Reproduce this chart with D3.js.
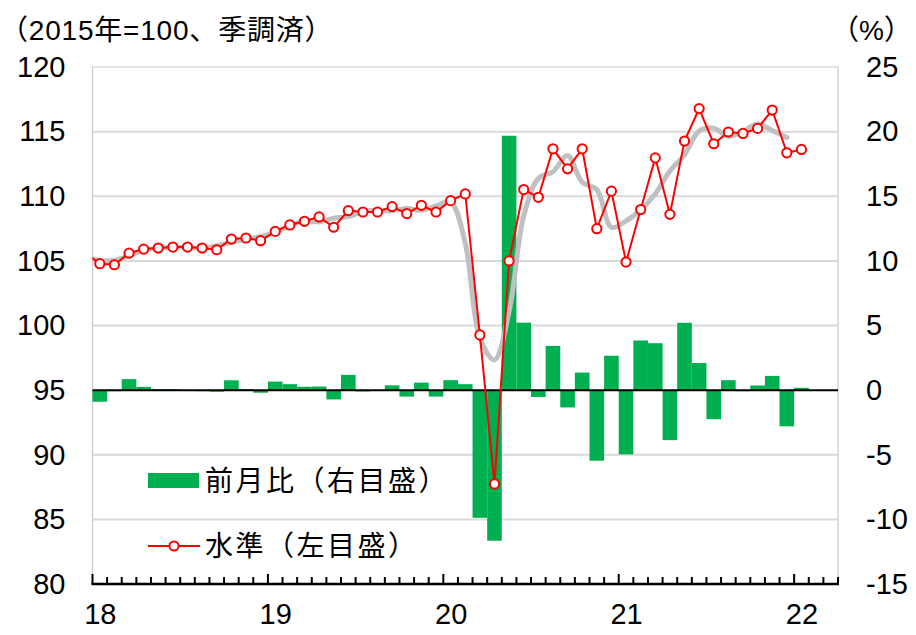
<!DOCTYPE html>
<html>
<head>
<meta charset="utf-8">
<script src="https://cdn.jsdelivr.net/npm/d3@7"></script>
<style>
  body { margin: 0; background: #fff; }
  text { font-family: "Liberation Sans", Arial, "Noto Sans CJK JP", sans-serif; fill: #000; }
  .jp { font-family: "Noto Sans CJK JP", sans-serif; }
</style>
</head>
<body>
<svg id="chart" width="916" height="635"></svg>
<script>
// months : index 0 = 2018-01, -1 = 2017-12 (coupé par le bord gauche)
var months = [
  "2017-12",
  "2018-01","2018-02","2018-03","2018-04","2018-05","2018-06","2018-07","2018-08","2018-09","2018-10","2018-11","2018-12",
  "2019-01","2019-02","2019-03","2019-04","2019-05","2019-06","2019-07","2019-08","2019-09","2019-10","2019-11","2019-12",
  "2020-01","2020-02","2020-03","2020-04","2020-05","2020-06","2020-07","2020-08","2020-09","2020-10","2020-11","2020-12",
  "2021-01","2021-02","2021-03","2021-04","2021-05","2021-06","2021-07","2021-08","2021-09","2021-10","2021-11","2021-12",
  "2022-01"
];

// 水準 (左目盛), 2017-12 .. 2022-01
var niveau = [
  105.6,
  104.78, 104.70, 105.60, 105.91, 105.99, 106.07, 106.07, 105.99, 105.86, 106.69, 106.77, 106.56,
  107.28, 107.78, 108.06, 108.40, 107.60, 108.89, 108.78, 108.78, 109.20, 108.66, 109.30, 108.78,
  109.66, 110.18, 99.27, 87.74, 105.00, 110.52, 109.92, 113.67, 112.12, 113.67, 107.49, 110.39,
  104.91, 108.97, 112.97, 108.60, 114.27, 116.78, 114.06, 114.97, 114.86, 115.25, 116.67, 113.36,
  113.62
];

// ligne grise lissée, 2017-12 .. 2021-12
var tendance = [
  105.3,
  105.03, 105.03, 105.40, 105.83, 105.99, 106.04, 106.04, 105.97, 106.18, 106.44, 106.67, 106.87,
  107.21, 107.71, 108.08, 108.02, 108.30, 108.42, 108.82, 108.92, 108.88, 109.05, 108.91, 109.25,
  109.54, 106.37, 99.06, 97.34, 101.09, 108.48, 111.37, 111.90, 113.15, 111.09, 110.52, 107.60,
  108.09, 108.95, 110.18, 111.95, 113.22, 115.04, 115.27, 114.63, 115.03, 115.59, 115.09, 114.55
];

// 前月比 (右目盛, %), 2018-01 .. 2022-01
var variation = [
  -0.90, -0.08, 0.85, 0.25, 0.07, 0.07, 0.00, -0.08, -0.12, 0.76, 0.08, -0.20,
  0.66, 0.46, 0.26, 0.28, -0.72, 1.18, -0.10, 0.00, 0.37, -0.50, 0.58, -0.50,
  0.77, 0.46, -9.88, -11.65, 19.68, 5.22, -0.53, 3.42, -1.34, 1.36, -5.46, 2.66,
  -4.97, 3.84, 3.63, -3.87, 5.21, 2.10, -2.25, 0.77, -0.08, 0.36, 1.10, -2.80,
  0.18
];

var anneesLabels = ["18", "19", "20", "21", "22"];
var gaucheTicks = [80, 85, 90, 95, 100, 105, 110, 115, 120];
var droiteTicks = [-15, -10, -5, 0, 5, 10, 15, 20, 25];
var nbMois = 51; // axe de 2018-01 a 2022-03

var svg = d3.select("#chart");
// attention : "top" est reserve par window
var gX0 = 92.5, gX1 = 838, gY0 = 67, gY1 = 584;

var x = d3.scaleLinear().domain([-0.5, nbMois - 0.5]).range([gX0, gX1]);
var pas = x(1) - x(0);
var yG = d3.scaleLinear().domain([80, 120]).range([gY1, gY0]);
var yD = d3.scaleLinear().domain([-15, 25]).range([gY1, gY0]);

svg.append("clipPath").attr("id", "zone")
  .append("rect").attr("x", gX0).attr("y", gY0 - 20).attr("width", gX1 - gX0).attr("height", gY1 - gY0 + 40);

// grille
svg.append("g").selectAll("line")
  .data(gaucheTicks.filter(function (v) { return v > 80 && v < 120 && v != 95; }))
  .enter().append("line")
  .attr("x1", gX0).attr("x2", gX1)
  .attr("y1", function (d) { return yG(d); }).attr("y2", function (d) { return yG(d); })
  .attr("stroke", "#d9d9d9").attr("stroke-width", 2);

// cadre
svg.append("path")
  .attr("d", "M" + gX0 + "," + gY1 + "V" + gY0 + "H" + gX1 + "V" + gY1)
  .attr("fill", "none").attr("stroke", "#c8c8c8").attr("stroke-width", 1.2);

// barres
svg.append("g").selectAll("rect")
  .data(variation)
  .enter().append("rect")
  .attr("x", function (d, i) { return x(i - 0.5); })
  .attr("width", pas)
  .attr("y", function (d) { return yD(Math.max(0, d)); })
  .attr("height", function (d) { return Math.abs(yD(d) - yD(0)); })
  .attr("fill", "#00b050");

// ligne zero
svg.append("line")
  .attr("x1", gX0).attr("x2", gX1)
  .attr("y1", yD(0)).attr("y2", yD(0))
  .attr("stroke", "#000").attr("stroke-width", 2);

var plot = svg.append("g").attr("clip-path", "url(#zone)");

var ligneGrise = d3.line()
  .x(function (d, i) { return x(i - 1); })
  .y(function (d) { return yG(d); })
  .curve(d3.curveCatmullRom.alpha(0.5));

plot.append("path")
  .datum(tendance)
  .attr("d", ligneGrise)
  .attr("fill", "none").attr("stroke", "#c0c0c0").attr("stroke-width", 5)
  .attr("stroke-linejoin", "round").attr("stroke-linecap", "round");

var ligneRouge = d3.line()
  .x(function (d, i) { return x(i - 1); })
  .y(function (d) { return yG(d); });

plot.append("path")
  .datum(niveau)
  .attr("d", ligneRouge)
  .attr("fill", "none").attr("stroke", "#ff0000").attr("stroke-width", 2);

plot.selectAll("circle")
  .data(niveau)
  .enter().append("circle")
  .attr("cx", function (d, i) { return x(i - 1); })
  .attr("cy", function (d) { return yG(d); })
  .attr("r", 4.6)
  .attr("fill", "#fff").attr("stroke", "#ff0000").attr("stroke-width", 2);

// axe du bas : petits traits tous les mois, grands a chaque annee
var bornes = d3.range(0, nbMois + 1).map(function (i) { return i - 0.5; });
var axeBas = svg.append("g").attr("transform", "translate(0," + gY1 + ")");
axeBas.selectAll("line.tick")
  .data(bornes)
  .enter().append("line")
  .attr("x1", function (d) { return x(d); }).attr("x2", function (d) { return x(d); })
  .attr("y1", 0)
  .attr("y2", function (d, i) { return (i % 12 == 0) ? -10 : -7; })
  .attr("stroke", "#000").attr("stroke-width", 2);
axeBas.append("line")
  .attr("x1", gX0 - 1).attr("x2", gX1 + 1)
  .attr("stroke", "#000").attr("stroke-width", 2.5);

var axeAnnees = d3.axisBottom(x)
  .tickValues([0, 12, 24, 36, 48])
  .tickSize(0)
  .tickFormat(function (d, i) { return anneesLabels[i]; });
svg.append("g")
  .attr("transform", "translate(0," + (gY1 + 15) + ")")
  .call(axeAnnees)
  .call(function (g) { g.select(".domain").remove(); })
  .selectAll("text").attr("font-size", 29).attr("dy", "0.75em").attr("fill", "#000");

// axes verticaux (tiret simple pour les negatifs, comme l'original)
var texteSimple = function (d) { return String(d); };

svg.append("g")
  .attr("transform", "translate(" + (gX0 - 27) + ",0)")
  .call(d3.axisLeft(yG).tickValues(gaucheTicks).tickFormat(texteSimple).tickSize(0).tickPadding(0))
  .call(function (g) { g.select(".domain").remove(); })
  .selectAll("text").attr("font-size", 29).attr("fill", "#000");

svg.append("g")
  .attr("transform", "translate(" + (gX1 + 28) + ",0)")
  .call(d3.axisRight(yD).tickValues(droiteTicks).tickFormat(texteSimple).tickSize(0).tickPadding(0))
  .call(function (g) { g.select(".domain").remove(); })
  .selectAll("text").attr("font-size", 29).attr("fill", "#000");

// titres d'unite
svg.append("text")
  .attr("x", 0).attr("y", 40)
  .attr("font-size", 28).attr("letter-spacing", 0.8)
  .text("（2015年=100、季調済）");
svg.append("text")
  .attr("x", 912).attr("y", 40)
  .attr("text-anchor", "end")
  .attr("font-size", 28)
  .text("（%）");

// legende
var leg = svg.append("g");
leg.append("rect")
  .attr("x", 148).attr("y", 473).attr("width", 51).attr("height", 15)
  .attr("fill", "#00b050");
leg.append("text").attr("class", "jp")
  .attr("x", 205).attr("y", 481).attr("dy", "0.36em")
  .attr("font-size", 28).attr("letter-spacing", 2.5)
  .text("前月比（右目盛）");

leg.append("line")
  .attr("x1", 148).attr("x2", 200).attr("y1", 546).attr("y2", 546)
  .attr("stroke", "#ff0000").attr("stroke-width", 2);
leg.append("circle")
  .attr("cx", 174).attr("cy", 546).attr("r", 4.6)
  .attr("fill", "#fff").attr("stroke", "#ff0000").attr("stroke-width", 2);
leg.append("text").attr("class", "jp")
  .attr("x", 205).attr("y", 546).attr("dy", "0.36em")
  .attr("font-size", 28).attr("letter-spacing", 2.5)
  .text("水準（左目盛）");
</script>
</body>
</html>
